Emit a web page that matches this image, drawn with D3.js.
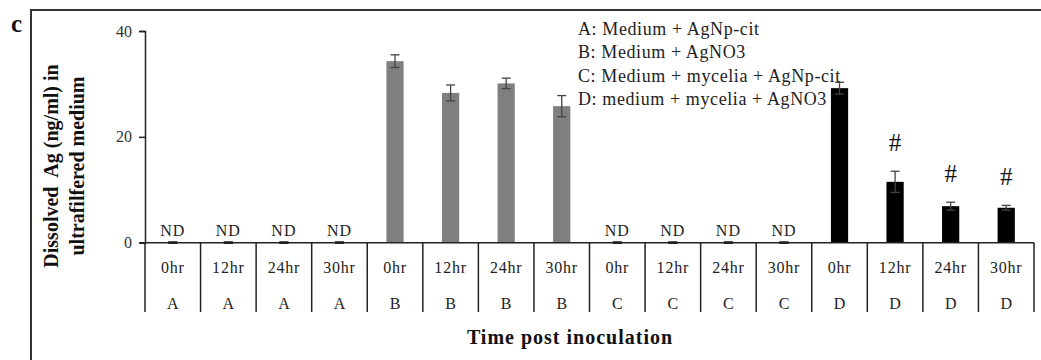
<!DOCTYPE html>
<html><head><meta charset="utf-8">
<script src="https://cdn.jsdelivr.net/npm/d3@7"></script>
<style>body{margin:0;background:#fff}svg{display:block}text{font-family:"Liberation Serif","Times New Roman",serif}</style>
</head><body><svg id="c" width="1041" height="360"></svg>
<script>
const times = ["0hr","12hr","24hr","30hr"];
const groups = ["A","B","C","D"];
const valuesA = [0,0,0,0];
const valuesB = [34.3,28.3,30.1,25.8];
const valuesC = [0,0,0,0];
const valuesD = [29.2,11.5,6.9,6.6];
const errA = [0,0,0,0];
const errB = [1.2,1.5,1.0,2.0];
const errC = [0,0,0,0];
const errD = [1.1,2.0,0.75,0.45];
const notDetected = [true,false,true,false];
const significant = [[false,false,false,false],[false,false,false,false],[false,false,false,false],[false,true,true,true]];
const groupColors = ["#7f7f7f","#7f7f7f","#7f7f7f","#000000"];
const yTicks = [0,20,40];
const legendLines = ["A: Medium + AgNp-cit","B: Medium + AgNO3","C: Medium + mycelia + AgNp-cit","D: medium + mycelia + AgNO3"];

const allVals=[valuesA,valuesB,valuesC,valuesD], allErr=[errA,errB,errC,errD];
const data=[];
groups.forEach((g,gi)=>times.forEach((t,ti)=>data.push({key:g+t,g,gi,t,v:allVals[gi][ti],e:allErr[gi][ti],nd:notDetected[gi],sig:significant[gi][ti]})));

const svg=d3.select("#c");
const x=d3.scaleBand().domain(data.map(d=>d.key)).range([145,1034]).paddingInner(0.69).paddingOuter(0.345);
const y=d3.scaleLinear().domain([0,40]).range([242.7,31]);

// frame
svg.append("path").attr("d","M31,1000V10H1100").attr("fill","none").attr("stroke","#333").attr("stroke-width",2);
svg.append("text").attr("x",11).attr("y",32).attr("font-size",25).attr("font-weight","bold").attr("fill","#111").text("c");

// y axis
const ya=svg.append("g").attr("transform","translate(145,0)").call(d3.axisLeft(y).tickValues(yTicks).tickSize(6).tickPadding(7).tickFormat(d3.format("d")));
ya.select(".domain").attr("stroke","#222").attr("stroke-width",1.5);
ya.selectAll(".tick line").attr("stroke","#222").attr("stroke-width",1.5);
ya.selectAll("text").attr("font-family","Liberation Serif").attr("font-size",16).attr("fill","#333");

// y title
const yt=svg.append("text").attr("transform","translate(0,166) rotate(-90)").attr("text-anchor","middle").attr("font-size",20).attr("font-weight","bold").attr("fill","#111");
yt.append("tspan").attr("x",0).attr("y",58).style("white-space","pre").text("Dissolved  Ag (ng/ml) in");
yt.append("tspan").attr("x",0).attr("y",84).text("ultrafilfered medium");

// bars
svg.selectAll("rect.bar").data(data).join("rect").attr("class","bar")
 .attr("x",d=>x(d.key)).attr("width",x.bandwidth()).attr("y",d=>y(d.v)).attr("height",d=>y(0)-y(d.v)).attr("fill",d=>groupColors[d.gi]);

// error bars
const eb=svg.selectAll("g.err").data(data).join("g").attr("class","err");
const cx=d=>x(d.key)+x.bandwidth()/2;
eb.append("line").attr("x1",cx).attr("x2",cx).attr("y1",d=>y(d.v+d.e)).attr("y2",d=>y(Math.max(0,d.v-d.e))).attr("stroke",d=>d.v===0?"#222":"#444").attr("stroke-width",1.3);
eb.append("line").attr("x1",d=>cx(d)-4.5).attr("x2",d=>cx(d)+4.5).attr("y1",d=>y(d.v+d.e)).attr("y2",d=>y(d.v+d.e)).attr("stroke",d=>d.v===0?"#222":"#444").attr("stroke-width",d=>d.v===0?2.5:1.3);
eb.append("line").attr("x1",d=>cx(d)-4.5).attr("x2",d=>cx(d)+4.5).attr("y1",d=>y(Math.max(0,d.v-d.e))).attr("y2",d=>y(Math.max(0,d.v-d.e))).attr("stroke",d=>d.v===0?"#222":"#444").attr("stroke-width",d=>d.v===0?2.5:1.3);

// ND labels
svg.selectAll("text.nd").data(data.filter(d=>d.nd)).join("text").attr("class","nd")
 .attr("x",cx).attr("y",y(0)-7).attr("text-anchor","middle").attr("font-size",16).attr("letter-spacing",1).attr("fill","#222").text("ND");
// significance
svg.selectAll("text.sig").data(data.filter(d=>d.sig)).join("text").attr("class","sig")
 .attr("x",cx).attr("y",d=>y(d.v+d.e)-20).attr("text-anchor","middle").attr("font-size",25).attr("fill","#111").text("#");

// x axis
const xa=svg.append("g");
xa.append("line").attr("x1",140).attr("x2",1034).attr("y1",y(0)).attr("y2",y(0)).attr("stroke","#222").attr("stroke-width",1.5);
const bounds=data.map(d=>x(d.key)-x.step()*x.paddingInner()/2).concat([1034]);
xa.selectAll("line.sep").data(bounds).join("line").attr("class","sep").attr("x1",d=>d).attr("x2",d=>d).attr("y1",y(0)).attr("y2",312).attr("stroke","#222").attr("stroke-width",1.5);
xa.selectAll("text.t").data(data).join("text").attr("class","t").attr("x",cx).attr("y",273).attr("text-anchor","middle").attr("font-size",16).attr("letter-spacing",0.8).attr("fill","#222").text(d=>d.t);
xa.selectAll("text.g").data(data).join("text").attr("class","g").attr("x",cx).attr("y",309).attr("text-anchor","middle").attr("font-size",16).attr("fill","#222").text(d=>d.g);
svg.append("text").attr("x",570).attr("y",344).attr("text-anchor","middle").attr("font-size",20).attr("font-weight","bold").attr("letter-spacing",1).attr("fill","#111").text("Time post inoculation");

// legend
svg.selectAll("text.leg").data(legendLines).join("text").attr("class","leg").attr("x",578).attr("y",(d,i)=>35+i*23.3)
 .attr("font-size",18).attr("letter-spacing",0.6).attr("fill","#222").text(d=>d);
</script></body></html>
